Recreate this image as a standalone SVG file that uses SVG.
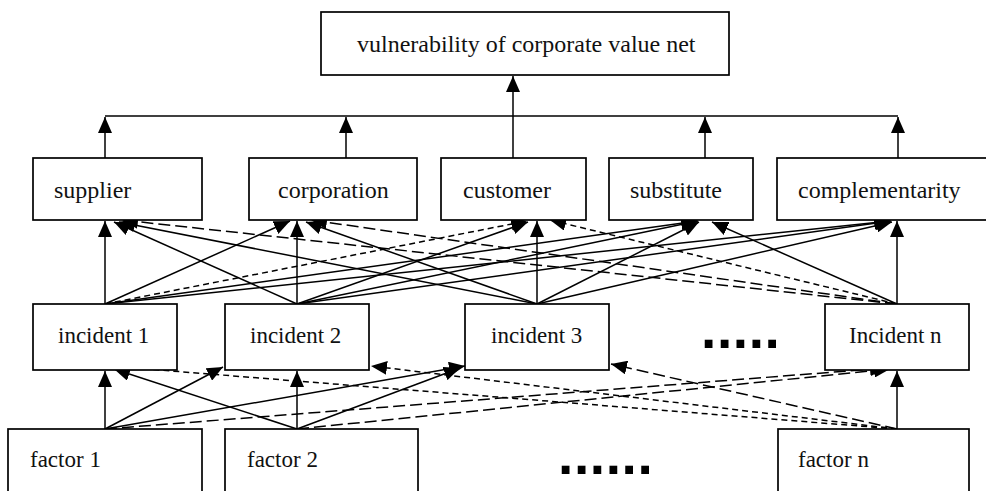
<svg xmlns="http://www.w3.org/2000/svg" width="986" height="491" viewBox="0 0 986 491">
<style>
.box{fill:#fff;stroke:#000;stroke-width:1.7}
.t{font-family:"Liberation Serif","Times New Roman",serif;font-size:24px;fill:#111}
.t2{font-family:"Liberation Serif","Times New Roman",serif;font-size:23px;fill:#111}
.dots{font-family:"Liberation Sans",Arial,sans-serif;font-weight:bold;font-size:55px;letter-spacing:0.6px;fill:#000}
.e{fill:none;stroke:#000;stroke-width:1.5;marker-end:url(#ah)}
.ld{stroke-dasharray:12,5}
.sd{stroke-dasharray:6,4}
</style>
<defs>
<marker id="ah" markerUnits="userSpaceOnUse" markerWidth="16" markerHeight="14" refX="16" refY="7" orient="auto">
<path d="M0,0 L16,7 L0,14 z" fill="#000"/>
</marker>
</defs>
<rect width="986" height="491" fill="#fff"/>
<g id="connectors">
<path class="e" d="M513,158 L513,76"/>
<path fill="none" stroke="#000" stroke-width="1.5" d="M105,116 L898,116"/>
<path class="e" d="M105,158 L105,117"/>
<path class="e" d="M346,158 L346,117"/>
<path class="e" d="M705,158 L705,117"/>
<path class="e" d="M898,158 L898,117"/>
<path class="e" d="M105,304 L105,221"/>
<path class="e" d="M105,304 L290,221"/>
<path class="e sd" d="M105,304 L527,221"/>
<path class="e" d="M105,304 L697,221"/>
<path class="e" d="M105,304 L890,221"/>
<path class="e" d="M297,304 L114,222"/>
<path class="e" d="M297,304 L297,221"/>
<path class="e" d="M297,304 L528,222"/>
<path class="e" d="M297,304 L698,221"/>
<path class="e" d="M297,304 L891,221"/>
<path class="e" d="M537,304 L119,222"/>
<path class="e" d="M537,304 L306,222"/>
<path class="e" d="M537,304 L537,221"/>
<path class="e" d="M537,304 L699,222"/>
<path class="e" d="M537,304 L892,222"/>
<path class="e ld" d="M897,304 L122,220"/>
<path class="e ld" d="M897,304 L311,220"/>
<path class="e sd" d="M897,304 L550,220"/>
<path class="e" d="M897,304 L712,222"/>
<path class="e" d="M897,304 L897,221"/>
<path class="e" d="M105,429 L105,371"/>
<path class="e" d="M105,429 L223,367"/>
<path class="e" d="M105,429 L465,366"/>
<path class="e ld" d="M105,429 L886,368"/>
<path class="e" d="M297,429 L114,369"/>
<path class="e" d="M297,429 L297,371"/>
<path class="e" d="M297,429 L460,368"/>
<path class="e ld" d="M297,429 L890,369"/>
<path class="e sd" d="M897,429 L109,366"/>
<path class="e sd" d="M897,429 L371,366"/>
<path class="e ld" d="M897,429 L611,364"/>
<path class="e" d="M897,429 L897,371"/>
</g>
<g id="top"><rect class="box" x="321" y="12" width="408" height="63"/><text class="t" x="357" y="52">vulnerability of corporate value net</text></g>
<g id="supplier"><rect class="box" x="33" y="158" width="169" height="62"/><text class="t" x="54" y="198">supplier</text></g>
<g id="corporation"><rect class="box" x="249" y="158" width="168" height="62"/><text class="t" x="278" y="198">corporation</text></g>
<g id="customer"><rect class="box" x="441" y="158" width="145" height="62"/><text class="t" x="463" y="198">customer</text></g>
<g id="substitute"><rect class="box" x="609" y="158" width="144" height="62"/><text class="t" x="630" y="198">substitute</text></g>
<g id="complementarity"><rect class="box" x="777" y="158" width="220" height="62"/><text class="t" x="798" y="198">complementarity</text></g>
<g id="incident1"><rect class="box" x="33" y="304" width="144" height="66"/><text class="t2" x="58" y="343">incident 1</text></g>
<g id="incident2"><rect class="box" x="225" y="304" width="144" height="66"/><text class="t2" x="250" y="343">incident 2</text></g>
<g id="incident3"><rect class="box" x="465" y="304" width="144" height="66"/><text class="t2" x="491" y="343">incident 3</text></g>
<g id="incidentN"><rect class="box" x="825" y="304" width="144" height="66"/><text class="t2" x="849" y="343">Incident n</text></g>
<g id="dots1"><text class="dots" x="701" y="348">.....</text></g>
<g id="factor1"><rect class="box" x="8" y="429" width="194" height="70"/><text class="t2" x="30" y="467">factor 1</text></g>
<g id="factor2"><rect class="box" x="225" y="429" width="193" height="70"/><text class="t2" x="247" y="467">factor 2</text></g>
<g id="dots2"><text class="dots" x="558" y="474">......</text></g>
<g id="factorN"><rect class="box" x="778" y="429" width="191" height="70"/><text class="t2" x="798" y="467">factor n</text></g>
</svg>
